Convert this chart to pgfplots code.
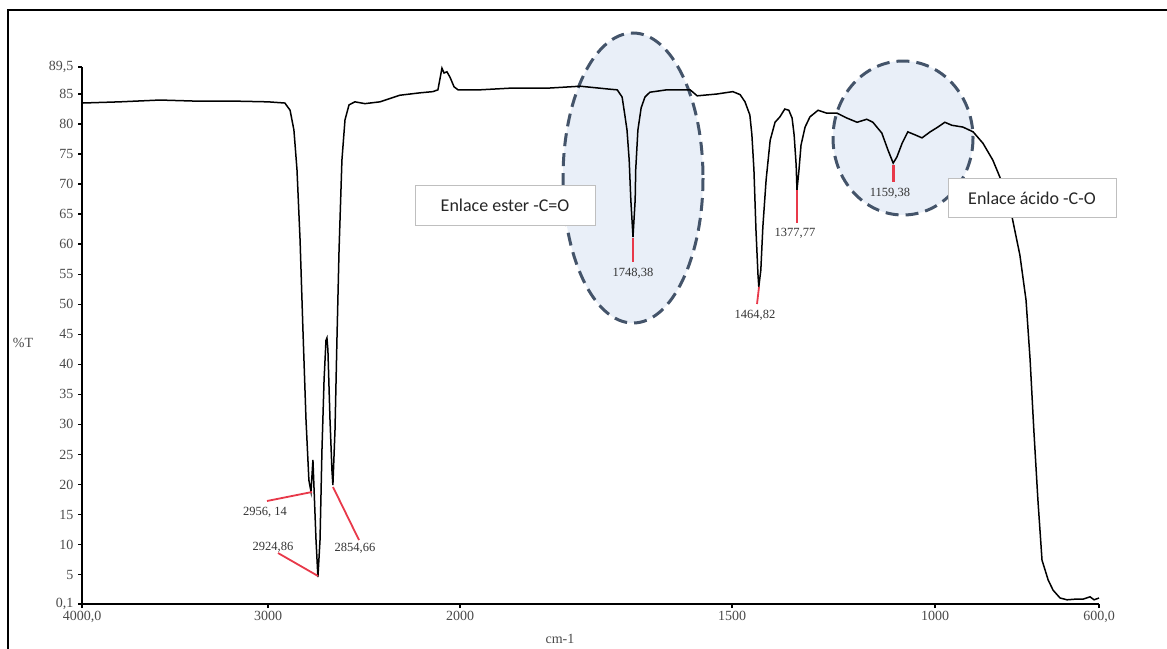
\documentclass[border=0pt]{standalone}
\usepackage{pgfplots}
\pgfplotsset{compat=1.18}
\usepackage{fontspec}
\setmainfont{Liberation Serif}
\newfontfamily\boxfont{Carlito}
\definecolor{ellfill}{HTML}{E9EFF8}
\definecolor{elldraw}{HTML}{44546A}
\definecolor{peakred}{HTML}{E8394A}
\definecolor{ticktext}{HTML}{4A4A4A}
\definecolor{lbltext}{HTML}{333333}
\definecolor{boxgray}{HTML}{BFBFBF}
\begin{document}
\begin{tikzpicture}[x=1pt,y=-1pt]
\useasboundingbox (0,0) rectangle (1167,648);
% highlighted regions
\draw[fill=ellfill, draw=elldraw, line width=3pt, dash pattern=on 13pt off 7pt] (633,178) ellipse [x radius=70, y radius=145];
\draw[fill=ellfill, draw=elldraw, line width=3pt, dash pattern=on 13pt off 7pt] (903,138) ellipse [x radius=70, y radius=77];
% outer frame
\draw[line width=2pt] (8,10) rectangle (1180,665);
\begin{axis}[
  at={(82pt,-604pt)}, anchor=south west,
  scale only axis, width=1017pt, height=537pt,
  x coord trafo/.code={\pgfmathparse{#1>=3000 ? 82+(4000-#1)*0.186 : (#1>=2000 ? 268+(3000-#1)*0.192 : (#1>=1500 ? 460+(2000-#1)*0.544 : (#1>=1000 ? 732+(1500-#1)*0.406 : 935+(1000-#1)*0.41)))}},
  xmin=4000, xmax=600, ymin=0.1, ymax=89.5,
  axis x line=bottom, axis y line=left,
  axis line style={-, line width=2pt, black},
  tick align=outside, major tick length=4pt,
  tick style={black, line width=1.4pt},
  xtick={4000,3000,2000,1500,1000,600},
  xticklabels={4000{,}0,3000,2000,1500,1000,600{,}0},
  ytick={0.1,5,10,15,20,25,30,35,40,45,50,55,60,65,70,75,80,85,89.5},
  yticklabels={0{,}1,5,10,15,20,25,30,35,40,45,50,55,60,65,70,75,80,85,89{,}5},
  tick label style={font=\fontsize{14}{16}\selectfont, text=ticktext},
  yticklabel style={xshift=-1pt},
  xticklabel style={yshift=0pt},
  clip=false,
]
\addplot[black, line width=1.5pt] coordinates {
(4000,83.5) (3796,83.7) (3581,84.0) (3366,83.8) (3151,83.8) (3000,83.7)
(2912,83.5) (2885,82.3) (2865,79.0) (2849,72.4) (2833,60.7) (2818,45.7)
(2802,30.7) (2787,20.7) (2776,18.8) (2766,24.1) (2760,19.1) (2750,10.8)
(2740,4.6) (2729,10.8) (2719,25.7) (2708,37.4) (2698,44.0) (2693,44.4)
(2688,42.4) (2677,30.7) (2667,22.4) (2662,19.9) (2651,29.1) (2641,44.0)
(2630,59.0) (2615,74.0) (2599,80.7) (2578,83.2) (2547,83.7) (2495,83.4)
(2417,83.7) (2313,84.8) (2208,85.2) (2141,85.4) (2115,85.7) (2094,89.3)
(2083,88.5) (2068,88.7) (2052,87.8) (2031,86.2) (2010,85.7) (1963,85.7)
(1903,86.0) (1835,86.0) (1779,86.3) (1724,85.8) (1711,85.7) (1702,84.5)
(1697,81.5) (1693,79.0) (1689,74.0) (1686,67.4) (1682,61.2) (1678,67.4)
(1677,72.4) (1673,79.0) (1667,82.7) (1660,84.5) (1651,85.3) (1620,85.7)
(1577,85.7) (1564,84.7) (1528,85.0) (1498,85.4) (1480,84.9) (1468,83.7)
(1456,81.5) (1451,78.2) (1446,72.4) (1441,62.4) (1436,54.9) (1434,52.9)
(1429,55.7) (1424,62.9) (1416,70.7) (1406,77.3) (1394,80.3) (1382,81.2)
(1370,82.5) (1360,82.3) (1352,81.0) (1347,78.2) (1342,73.2) (1340,69.0)
(1335,72.4) (1330,76.5) (1320,79.5) (1308,81.2) (1288,82.3) (1266,81.8)
(1241,81.8) (1217,81.0) (1192,80.3) (1168,80.8) (1153,80.3) (1131,78.5)
(1116,75.7) (1103,73.5) (1094,74.5) (1081,76.8) (1067,78.7) (1049,78.2)
(1032,77.7) (1012,78.7) (993,79.5) (976,80.3) (959,79.8) (932,79.5)
(907,78.7) (883,76.8) (859,74.0) (842,71.2) (812,64.5) (793,58.2)
(778,50.7) (768,40.7) (759,29.1) (749,17.4) (739,7.4) (724,4.1)
(712,2.4) (695,1.1) (678,0.8) (659,0.9) (639,0.9) (622,1.3)
(612,0.8) (600,1.1)
};
\end{axis}
% axis titles
\node[font=\fontsize{14}{16}\selectfont, text=ticktext] at (23,343) {\%T};
\node[font=\fontsize{14}{16}\selectfont, text=ticktext] at (560,639) {cm-1};
% peak markers
\begin{scope}[peakred, line width=1.8pt]
\draw (267,501) -- (312,492);
\draw (278,553) -- (318,576);
\draw (333,487) -- (359,540);
\draw (633,238) -- (633,262);
\draw (759,287) -- (757,304);
\draw (797,190) -- (797,223);
\draw[line width=3pt] (893,165) -- (893,182);
\end{scope}
\begin{scope}[font=\fontsize{12.5}{14}\selectfont, text=lbltext]
\node at (265,512) {2956, 14};
\node at (273,547) {2924,86};
\node at (355,548) {2854,66};
\node at (633,273) {1748,38};
\node at (755,315) {1464,82};
\node at (795,233) {1377,77};
\node at (890,193) {1159,38};
\end{scope}
% annotation boxes
\node[draw=boxgray, fill=white, line width=1pt, minimum width=180pt, minimum height=40pt, font=\boxfont\fontsize{18}{21}\selectfont, text=black!85] at (505,205) {Enlace ester -C=O};
\node[draw=boxgray, fill=white, line width=1pt, minimum width=168pt, minimum height=39pt, font=\boxfont\fontsize{18}{21}\selectfont, text=black!85] at (1032,198) {Enlace ácido -C-O};
\end{tikzpicture}
\end{document}
